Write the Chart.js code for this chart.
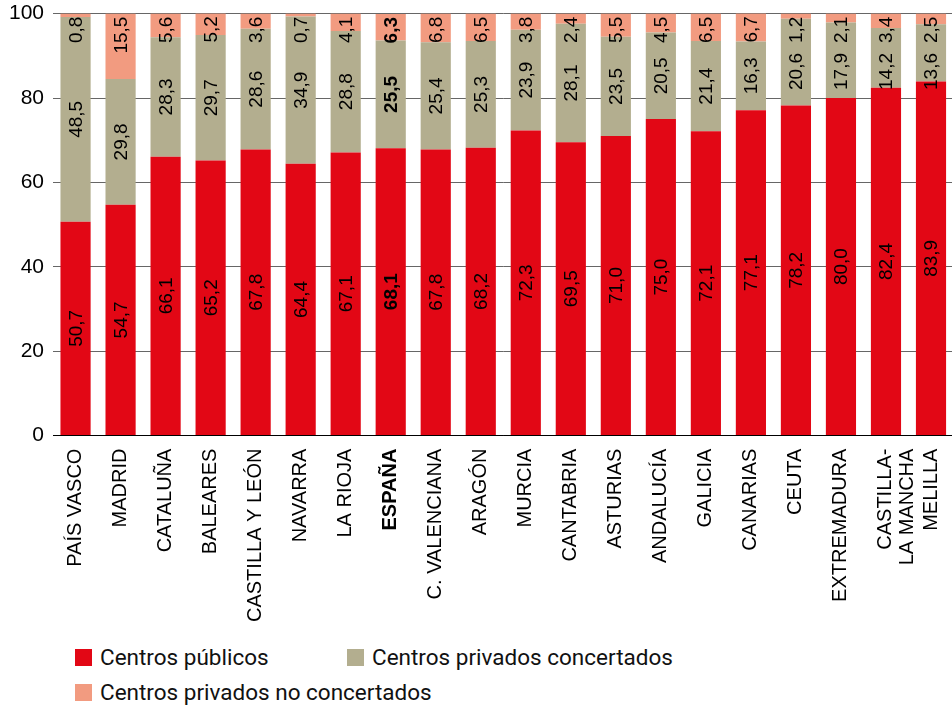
<!DOCTYPE html>
<html lang="es">
<head>
<meta charset="utf-8">
<title>Alumnado por titularidad del centro</title>
<script src="https://cdn.jsdelivr.net/npm/chart.js@4.4.1/dist/chart.umd.min.js"></script>
<style>
  html, body { margin: 0; padding: 0; background: #fff; overflow: hidden; }
  #wrap { position: relative; width: 952px; height: 709px; overflow: hidden; }
  #box { position: absolute; left: 0; top: -8px; width: 966px; height: 643px; }
  .legend { position: absolute; font-family: Roboto, "Liberation Sans", sans-serif; font-size: 22.5px; color: #111; display: flex; align-items: center; white-space: nowrap; }
  .legend i { display: inline-block; width: 17px; height: 17px; margin-right: 8px; }
</style>
</head>
<body>
<div id="wrap">
  <div id="box"><canvas id="myChart"></canvas></div>
  <div class="legend" style="left:75px; top:644px;"><i style="background:#e20715"></i>Centros públicos</div>
  <div class="legend" style="left:347px; top:644px;"><i style="background:#b3ae8f"></i>Centros privados concertados</div>
  <div class="legend" style="left:75px; top:679px;"><i style="background:#f29b80"></i>Centros privados no concertados</div>
</div>
<script>
const labels = [
  "PAÍS VASCO", "MADRID", "CATALUÑA", "BALEARES", "CASTILLA Y LEÓN",
  "NAVARRA", "LA RIOJA", "ESPAÑA", "C. VALENCIANA", "ARAGÓN",
  "MURCIA", "CANTABRIA", "ASTURIAS", "ANDALUCÍA", "GALICIA",
  "CANARIAS", "CEUTA", "EXTREMADURA", ["CASTILLA-", "LA MANCHA"], "MELILLA",
];

const publicos = [50.7, 54.7, 66.1, 65.2, 67.8, 64.4, 67.1, 68.1, 67.8, 68.2,
  72.3, 69.5, 71.0, 75.0, 72.1, 77.1, 78.2, 80.0, 82.4, 83.9];
const concertados = [48.5, 29.8, 28.3, 29.7, 28.6, 34.9, 28.8, 25.5, 25.4, 25.3,
  23.9, 28.1, 23.5, 20.5, 21.4, 16.3, 20.6, 17.9, 14.2, 13.6];
const noConcertados = [0.8, 15.5, 5.6, 5.2, 3.6, 0.7, 4.1, 6.3, 6.8, 6.5,
  3.8, 2.4, 5.5, 4.5, 6.5, 6.7, 1.2, 2.1, 3.4, 2.5];

const yTicks = [0, 20, 40, 60, 80, 100];
const boldIndex = 7; // ESPAÑA

const FAMILY = "'Liberation Sans', Arial, sans-serif";

// value labels, rotated; top segment pinned under the bar top, the others centred
// (a centred label is pushed down when it would run into the top one)
const segmentLabels = {
  id: "segmentLabels",
  afterDatasetsDraw(chart) {
    const ctx = chart.ctx;
    const n = chart.data.labels.length;
    for (let i = 0; i < n; i++) {
      ctx.save();
      ctx.fillStyle = "#000";
      ctx.font = (i === boldIndex ? "bold " : "") + "19px " + FAMILY;
      ctx.textBaseline = "middle";
      let topEnd = -Infinity;
      [2, 1, 0].forEach((di) => {
        const ds = chart.data.datasets[di];
        const bar = chart.getDatasetMeta(di).data[i];
        const txt = ds.data[i].toFixed(1).replace(".", ",");
        const w = ctx.measureText(txt).width;
        let cy;
        if (di === 2) {
          cy = bar.y + 3 + w / 2;
          topEnd = cy + w / 2;
        } else {
          cy = (bar.y + bar.base) / 2;
          if (cy - w / 2 < topEnd + 10) cy = topEnd + 10 + w / 2;
          topEnd = cy + w / 2;
        }
        ctx.save();
        ctx.translate(bar.x, cy);
        ctx.rotate(-Math.PI / 2);
        ctx.textAlign = "center";
        ctx.fillText(txt, 0, 1);
        ctx.restore();
      });
      ctx.restore();
    }
  },
};

const data = {
  labels: labels,
  datasets: [
    { label: "Centros públicos", data: publicos, backgroundColor: "#e20715" },
    { label: "Centros privados concertados", data: concertados, backgroundColor: "#b3ae8f" },
    { label: "Centros privados no concertados", data: noConcertados, backgroundColor: "#f29b80" },
  ],
};

const config = {
  type: "bar",
  data: data,
  plugins: [segmentLabels],
  options: {
    responsive: true,
    maintainAspectRatio: false,
    animation: false,
    datasets: {
      bar: { barPercentage: 0.67, categoryPercentage: 1, borderWidth: 0 },
    },
    layout: { padding: 0 },
    plugins: {
      legend: { display: false },
      tooltip: { enabled: false },
    },
    scales: {
      x: {
        stacked: true,
        grid: { display: false, drawTicks: false },
        border: { display: true, color: "#000", width: 1 },
        ticks: {
          color: "#000",
          minRotation: 90,
          maxRotation: 90,
          autoSkip: false,
          padding: 13,
          font: (c) => ({
            family: FAMILY,
            size: 20,
            lineHeight: 1.1,
            weight: c.index === boldIndex ? "bold" : "normal",
          }),
        },
      },
      y: {
        stacked: true,
        min: 0,
        max: 100,
        afterBuildTicks: (axis) => {
          axis.ticks = yTicks.map((v) => ({ value: v }));
        },
        grid: {
          color: (c) => (c.tick && c.tick.value === 0 ? "#000" : "#666"),
          lineWidth: 1,
          drawTicks: false,
        },
        border: { display: false },
        ticks: {
          color: "#000",
          padding: 9,
          font: { family: FAMILY, size: 21 },
        },
      },
    },
  },
};

let myChart = new Chart(document.getElementById("myChart"), config);
</script>
</body>
</html>
